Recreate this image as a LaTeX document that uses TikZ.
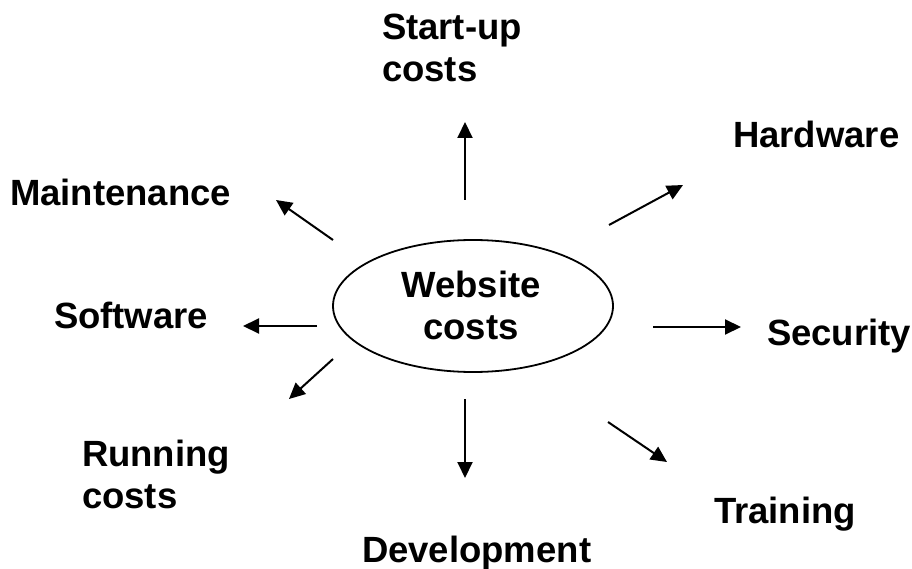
\documentclass[tikz,border=0pt]{standalone}
\usepackage{fontspec}
\setmainfont{Liberation Sans}
\usetikzlibrary{arrows.meta,shapes.geometric}

\tikzset{
  label/.style={inner sep=0pt, outer sep=0pt, align=left, anchor=base west,
    font=\fontsize{36.5}{42}\selectfont\bfseries},
  spoke/.style={line width=2pt, -{Triangle[length=16pt,width=15pt]}},
  hubshape/.style={draw, ellipse, line width=1.8pt, minimum width=280pt,
    minimum height=132pt, inner sep=0pt}
}

\begin{document}
\begin{tikzpicture}[x=1pt, y=-1pt]
  \useasboundingbox (0,0) rectangle (912,569);

  % central ellipse and its caption (base anchor = last line's baseline)
  \node[hubshape] (hub) at (473,306) {};
  \node[label, align=center, anchor=base] (hubtext) at (471,339) {Website\\costs};

  % surrounding cost items
  \node[label] (startup) at (382,82) {Start-up\\costs};
  \node[label] (hardware) at (733,148) {Hardware};
  \node[label] (maint) at (10,206) {Maintenance};
  \node[label] (software) at (54,328) {Software};
  \node[label] (security) at (767,345) {Security};
  \node[label] (running) at (82,508) {Running\\costs};
  \node[label] (training) at (714,523) {Training};
  \node[label] (develop) at (362,562) {Development};

  % arrow end points
  \coordinate (s1) at (465,200);  \coordinate (t1) at (465,122);
  \coordinate (s2) at (609,225);  \coordinate (t2) at (683,185);
  \coordinate (s3) at (333,240);  \coordinate (t3) at (276,200);
  \coordinate (s4) at (317,326);  \coordinate (t4) at (243,326);
  \coordinate (s5) at (653,327);  \coordinate (t5) at (741,327);
  \coordinate (s6) at (333,359);  \coordinate (t6) at (289,399);
  \coordinate (s7) at (465,399);  \coordinate (t7) at (465,478);
  \coordinate (s8) at (608,422);  \coordinate (t8) at (667,462);

  % spokes from the hub outwards
  \foreach \i in {1,...,8} { \draw[spoke] (s\i) -- (t\i); }
\end{tikzpicture}
\end{document}
